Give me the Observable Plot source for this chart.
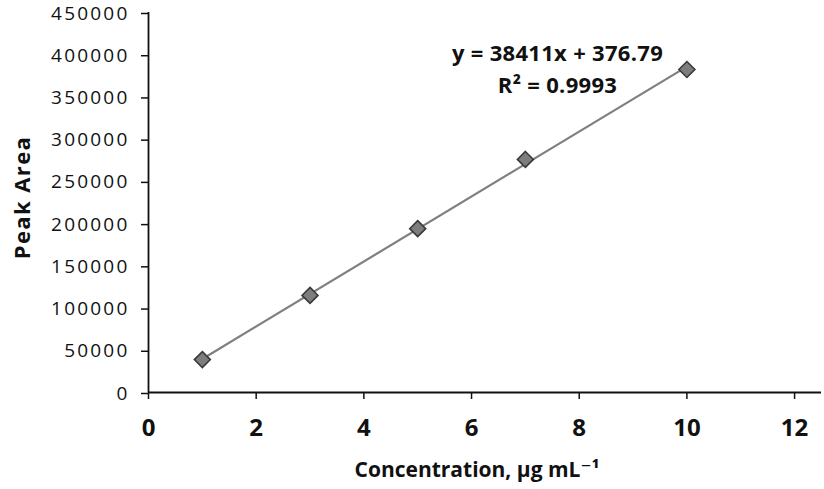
<!DOCTYPE html>
<html>
<head>
<meta charset="utf-8">
<script src="https://cdn.jsdelivr.net/npm/d3@7"></script>
<script src="https://cdn.jsdelivr.net/npm/@observablehq/plot@0.6"></script>
<style>
  html, body { margin: 0; padding: 0; background: #fff; }
  #chart svg { display: block; }
  #chart g[aria-label="y-axis tick label"] text { letter-spacing: 2.2px; }
  #chart g.ytitle text { letter-spacing: 1.4px; }
  #chart g.eq text { letter-spacing: 0.3px; }
</style>
</head>
<body>
<div id="chart"></div>
<script>
// Data
const concentration = [1, 3, 5, 7, 10];
const peakArea = [39000, 115000, 194000, 276000, 382500];
const xTicks = [0, 2, 4, 6, 8, 10, 12];
const yTicks = [0, 50000, 100000, 150000, 200000, 250000, 300000, 350000, 400000, 450000];
const equationLines = ["y = 38411x + 376.79", "R\u00B2 = 0.9993"];
const xTitle = ["Concentration, \u00B5g mL\u207B\u00B9"];
const yTitle = ["Peak Area"];

const data = concentration.map((c, i) => ({x: c, y: peakArea[i]}));
const font = "'Open Sans', 'DejaVu Sans', sans-serif";

const chart = Plot.plot({
  width: 824,
  height: 489,
  marginLeft: 148,
  marginRight: 3,
  marginTop: 12,
  marginBottom: 97,
  style: {fontFamily: font, color: "#111", background: "#fff"},
  x: {domain: [0, 12.5]},
  y: {domain: [0, 450000]},
  marks: [
    Plot.axisY({ticks: yTicks, tickSize: 7, tickPadding: 12, tickFormat: d3.format("d"),
      label: null, fontSize: 19, fontWeight: 500, dy: 1, stroke: "#111", strokeWidth: 1.5}),
    Plot.axisX({ticks: xTicks, tickSize: 7, tickPadding: 19, label: null,
      fontSize: 24, fontWeight: "bold", stroke: "#111", strokeWidth: 1.5}),
    Plot.ruleX([0], {stroke: "#111", strokeWidth: 1.8}),
    Plot.ruleY([0], {stroke: "#111", strokeWidth: 1.8}),
    Plot.linearRegressionY(data, {x: "x", y: "y", stroke: "#7f7f7f", strokeWidth: 2.2, ci: 0}),
    Plot.dot(data, {x: "x", y: "y", symbol: "diamond2", r: 7.2, fill: "#7d7d7d", stroke: "#3a3a3a", strokeWidth: 1.6}),
    Plot.text([equationLines[0]], {frameAnchor: "top-left", dx: 409, dy: 41, textAnchor: "middle", lineAnchor: "middle",
      fontSize: 22, fontWeight: "bold", fill: "#111", className: "eq"}),
    Plot.text([equationLines[1]], {frameAnchor: "top-left", dx: 409, dy: 73, textAnchor: "middle", lineAnchor: "middle",
      fontSize: 22, fontWeight: "bold", fill: "#111", className: "eq"}),
    Plot.text(xTitle, {frameAnchor: "bottom", dx: -8, dy: 78, textAnchor: "middle", lineAnchor: "middle",
      fontSize: 21, fontWeight: "bold", fill: "#111"}),
    Plot.text(yTitle, {frameAnchor: "left", dx: -126, dy: -5, rotate: -90, textAnchor: "middle", lineAnchor: "middle",
      fontSize: 22, fontWeight: "bold", fill: "#111", className: "ytitle"})
  ]
});

document.getElementById("chart").appendChild(chart);
</script>
</body>
</html>
